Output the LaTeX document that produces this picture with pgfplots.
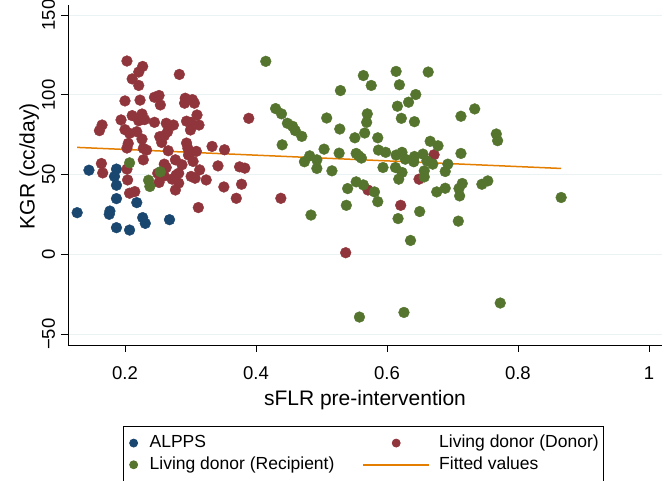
\documentclass[border=0pt]{standalone}
\usepackage{pgfplots}
\pgfplotsset{compat=1.18}
\usepackage{pgfplotstable}
\usepackage{fontspec}
\setmainfont{Liberation Sans}

\definecolor{alpps}{HTML}{1A476F}
\definecolor{donor}{HTML}{90353B}
\definecolor{recip}{HTML}{55752F}
\definecolor{fitcol}{HTML}{E37E00}
\definecolor{gridcol}{HTML}{EAF2F3}

% sFLR pre-intervention vs KGR
\pgfplotstableread{
x y
0.127 26.2
0.145 52.8
0.187 53.5
0.184 48.9
0.187 43.4
0.187 35.0
0.177 27.2
0.176 25.2
0.187 16.8
0.207 15.3
0.218 32.5
0.227 23.1
0.231 19.5
0.268 21.8
}\alppsdata

\pgfplotstableread{
x y
0.203 121.2
0.227 117.8
0.221 114.3
0.211 110.0
0.221 105.9
0.283 112.8
0.200 96.2
0.223 96.7
0.245 98.5
0.252 99.6
0.254 93.7
0.292 97.9
0.291 94.8
0.303 97.0
0.306 94.8
0.310 87.4
0.165 81.1
0.161 77.6
0.194 84.3
0.211 87.0
0.226 88.0
0.221 83.8
0.230 84.5
0.245 82.8
0.263 82.2
0.274 81.1
0.294 83.5
0.301 82.8
0.313 81.1
0.300 78.0
0.265 76.9
0.260 74.4
0.253 73.8
0.200 78.2
0.207 75.9
0.218 76.9
0.226 72.3
0.256 70.2
0.205 69.6
0.203 66.7
0.228 66.5
0.233 65.4
0.266 65.0
0.294 69.8
0.296 66.5
0.301 64.3
0.309 64.6
0.297 62.3
0.333 67.7
0.352 65.6
0.164 57.0
0.166 51.1
0.203 53.5
0.204 46.7
0.228 59.3
0.277 59.3
0.260 56.6
0.263 54.5
0.287 56.2
0.304 58.3
0.314 53.0
0.282 50.9
0.278 49.7
0.250 50.9
0.260 49.2
0.301 48.9
0.307 47.8
0.324 46.7
0.342 55.5
0.375 54.9
0.383 54.1
0.272 47.2
0.282 44.7
0.252 45.1
0.277 40.4
0.378 44.0
0.351 42.3
0.207 38.4
0.215 39.4
0.370 35.2
0.312 29.4
0.389 85.3
0.438 35.2
0.672 62.5
0.649 47.2
0.571 40.4
0.621 30.8
0.537 1.1
}\donordata

\pgfplotstableread{
x y
0.415 121.0
0.430 91.4
0.207 57.4
0.254 51.8
0.236 46.5
0.238 42.6
0.564 112.1
0.576 105.9
0.614 114.7
0.663 114.3
0.619 106.3
0.529 102.7
0.644 100.2
0.633 95.4
0.616 92.9
0.439 88.1
0.570 88.1
0.508 85.5
0.622 85.3
0.713 86.6
0.642 83.2
0.569 82.8
0.448 82.2
0.456 80.3
0.460 77.6
0.566 76.1
0.528 78.6
0.470 74.0
0.551 73.1
0.586 73.1
0.440 68.7
0.504 66.0
0.587 65.4
0.598 64.0
0.527 63.5
0.553 63.3
0.557 61.8
0.561 60.4
0.614 62.3
0.623 64.0
0.642 61.4
0.655 62.9
0.666 70.9
0.678 68.1
0.713 63.3
0.482 61.8
0.474 58.1
0.493 59.3
0.493 53.9
0.516 52.4
0.628 59.7
0.641 58.1
0.661 58.7
0.670 56.6
0.693 56.6
0.594 54.5
0.613 54.5
0.623 51.4
0.618 47.2
0.657 52.4
0.657 48.6
0.689 52.0
0.540 41.3
0.553 45.5
0.564 43.6
0.581 39.2
0.586 33.1
0.538 30.8
0.484 24.7
0.617 22.5
0.650 26.9
0.676 39.2
0.689 41.5
0.710 41.3
0.715 44.5
0.711 36.7
0.709 20.9
0.636 8.8
0.558 -39.2
0.626 -36.3
0.734 91.2
0.767 75.5
0.769 71.3
0.745 44.0
0.754 46.1
0.866 35.7
0.773 -30.4
}\recipdata

\begin{document}
\begin{tikzpicture}
\useasboundingbox (-68pt,-136pt) rectangle (596pt,345pt);
\begin{axis}[
  at={(0pt,0pt)}, anchor=south west,
  scale only axis,
  width=594pt, height=340pt,
  xmin=0.113, xmax=1.02,
  ymin=-56.7, ymax=156.3,
  axis x line*=bottom, axis y line*=left,
  x axis line style={-}, y axis line style={-},
  axis line style={line width=0.8pt, black},
  xtick={0.2,0.4,0.6,0.8,1},
  xticklabels={0.2,0.4,0.6,0.8,1},
  ytick={-50,0,50,100,150},
  yticklabels={−50,0,50,100,150},
  tick align=outside, major tick length=7pt,
  tick style={black, line width=0.8pt},
  xtick pos=bottom, ytick pos=left,
  ymajorgrids,
  grid style={gridcol, line width=1pt},
  tick label style={font=\fontsize{18.5}{22}\selectfont},
  xticklabel style={anchor=base, yshift=-28pt},
  yticklabel style={xshift=-2.5pt, rotate=90, anchor=south},
  xlabel={sFLR pre-intervention},
  ylabel={KGR (cc/day)},
  label style={font=\fontsize{21}{25}\selectfont},
  xlabel style={at={(axis description cs:0.5,-0.1794)}, anchor=base},
  ylabel style={at={(axis description cs:-0.043,0.526)}, anchor=south},
  legend columns=2,
  legend cell align=left,
  legend style={
    at={(axis description cs:0.093,-0.238)}, anchor=north west,
    draw=black, line width=0.8pt,
    inner xsep=5pt, inner ysep=8.7pt,
    font=\fontsize{17.5}{20}\selectfont,
    nodes={inner sep=0pt, text height=12.5pt, text depth=3.6pt},
    row sep=5.6pt,
    /tikz/every odd column/.style={column sep=0pt},
    /tikz/every even column/.style={column sep=28pt},
  },
]
\addplot[only marks, color=alpps, mark=*, mark size=5.4pt,
  mark options={draw=none, fill=alpps},
  legend image code/.code={\path[draw=none, fill=none] (-5pt,0pt) -- (16pt,0pt);
    \fill[alpps] (0pt,0pt) circle (4pt);}]
  table[x=x, y=y] {\alppsdata};
\addlegendentry{ALPPS}
\addplot[only marks, color=donor, mark=*, mark size=5.4pt,
  mark options={draw=none, fill=donor},
  legend image code/.code={\path[draw=none, fill=none] (0pt,0pt) -- (76pt,0pt);
    \fill[donor] (33pt,0pt) circle (4pt);}]
  table[x=x, y=y] {\donordata};
\addlegendentry{Living donor (Donor)}
\addplot[only marks, color=recip, mark=*, mark size=5.4pt,
  mark options={draw=none, fill=recip},
  legend image code/.code={\path[draw=none, fill=none] (-5pt,0pt) -- (16pt,0pt);
    \fill[recip] (0pt,0pt) circle (4pt);}]
  table[x=x, y=y] {\recipdata};
\addlegendentry{Living donor (Recipient)}
\addplot[fitcol, line width=1.5pt, no marks,
  legend image code/.code={\path[draw=none, fill=none] (0pt,0pt) -- (76pt,0pt);
    \draw[fitcol, line width=1.5pt] (0pt,0pt) -- (66pt,0pt);}]
  coordinates {(0.127,67.1) (0.866,53.9)};
\addlegendentry{Fitted values\hspace{5pt}}
\end{axis}
\end{tikzpicture}
\end{document}
